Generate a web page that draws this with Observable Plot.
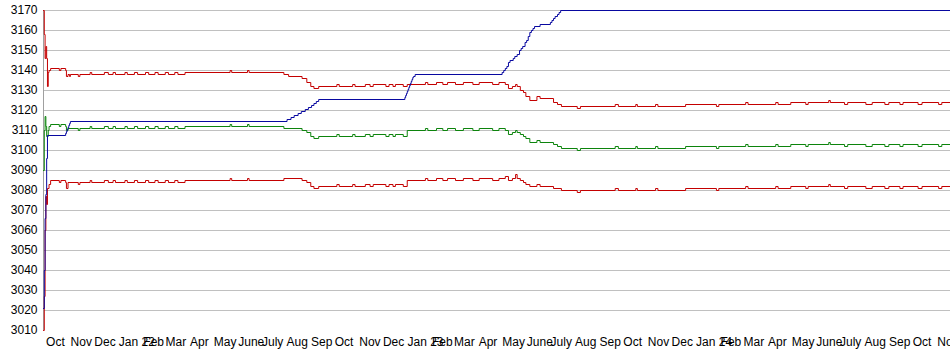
<!DOCTYPE html>
<html>
<head>
<meta charset="utf-8">
<script src="https://cdn.jsdelivr.net/npm/d3@7"></script>
<script src="https://cdn.jsdelivr.net/npm/@observablehq/plot@0.6"></script>
<style>
  html, body { margin: 0; padding: 0; background: #fff; }
  #chart svg { display: block; }
</style>
</head>
<body>
<div id="chart"></div>
<script>
const domainStart = "2021-09-29";
const domainEnd = "2024-11-19";
const yTicks = [3010, 3020, 3030, 3040, 3050, 3060, 3070, 3080, 3090, 3100, 3110, 3120, 3130, 3140, 3150, 3160, 3170];
const gridValues = [3020, 3030, 3040, 3050, 3060, 3070, 3080, 3090, 3100, 3110, 3120, 3130, 3140, 3150, 3160, 3170];
const monthNames = ["Jan", "Feb", "Mar", "Apr", "May", "June", "July", "Aug", "Sep", "Oct", "Nov", "Dec"];

const upperRed = [
["2021-09-29",3170],["2021-09-30",3158],["2021-10-01",3146],["2021-10-02",3152],["2021-10-03",3146],["2021-10-04",3132],["2021-10-05",3139],["2021-10-06",3140],["2021-10-08",3141],["2021-10-19",3140],["2021-10-21",3141],["2021-10-27",3140],["2021-10-28",3137],["2021-10-30",3138],["2021-11-01",3137],["2021-11-02",3138],
["2021-11-12",3137],["2021-11-14",3138],["2021-11-27",3139],["2021-11-29",3138],["2021-12-15",3139],["2021-12-20",3138],["2021-12-26",3139],["2021-12-29",3138],
["2022-01-10",3139],["2022-01-13",3138],["2022-01-22",3139],["2022-01-26",3138],["2022-02-05",3139],["2022-02-09",3138],["2022-02-17",3139],["2022-02-21",3138],["2022-03-02",3139],["2022-03-06",3138],["2022-03-14",3139],["2022-03-18",3138],["2022-03-27",3139],
["2022-05-23",3140],["2022-05-25",3139],["2022-06-14",3140],["2022-06-16",3139],
["2022-07-30",3138],["2022-08-05",3137],["2022-08-22",3136],["2022-08-28",3134],["2022-09-02",3132],["2022-09-06",3131],["2022-09-12",3132],
["2022-10-05",3133],["2022-10-08",3132],["2022-10-25",3133],["2022-10-28",3132],["2022-11-10",3133],["2022-11-16",3132],["2022-11-20",3133],["2022-12-06",3132],["2022-12-10",3133],["2022-12-15",3132],["2022-12-18",3133],["2022-12-28",3132],
["2023-01-02",3133],["2023-01-25",3134],["2023-01-28",3133],["2023-02-08",3134],["2023-02-16",3133],["2023-02-22",3134],["2023-03-04",3133],["2023-03-14",3134],["2023-03-26",3133],["2023-04-03",3134],["2023-04-20",3133],["2023-04-28",3134],
["2023-05-06",3133],["2023-05-10",3131],["2023-05-15",3132],["2023-05-19",3133],["2023-05-21",3132],["2023-05-25",3130],["2023-05-29",3129],["2023-06-01",3127],["2023-06-06",3125],["2023-06-15",3127],["2023-06-19",3126],["2023-07-06",3124],["2023-07-11",3123],["2023-07-16",3122],["2023-08-05",3121],["2023-08-09",3122],
["2023-09-22",3123],["2023-09-26",3122],["2023-10-18",3123],["2023-10-20",3122],["2023-11-12",3123],["2023-11-15",3122],["2023-12-20",3123],
["2024-01-28",3122],["2024-01-31",3123],["2024-03-05",3124],["2024-03-08",3123],["2024-04-12",3124],["2024-04-15",3123],["2024-05-01",3124],["2024-05-20",3123],["2024-05-23",3124],["2024-06-18",3125],["2024-06-20",3124],["2024-07-08",3123],["2024-07-12",3124],["2024-08-04",3123],["2024-08-12",3124],["2024-08-28",3123],["2024-09-02",3124],["2024-09-16",3123],["2024-09-20",3124],["2024-10-09",3123],["2024-10-14",3124],["2024-11-04",3123],["2024-11-08",3124],["2024-11-19",3124]
];

const middleGreen = [
["2021-09-29",3090],["2021-09-30",3110],["2021-10-01",3117],["2021-10-02",3112],["2021-10-03",3107],["2021-10-05",3110],["2021-10-06",3112],["2021-10-08",3113],["2021-10-19",3112],["2021-10-21",3113],["2021-10-27",3112],["2021-10-28",3110],["2021-10-30",3111],
["2021-11-12",3110],["2021-11-14",3111],["2021-11-27",3112],["2021-11-29",3111],["2021-12-15",3112],["2021-12-20",3111],["2021-12-26",3112],["2021-12-29",3111],
["2022-01-10",3112],["2022-01-13",3111],["2022-01-22",3112],["2022-01-26",3111],["2022-02-05",3112],["2022-02-09",3111],["2022-02-17",3112],["2022-02-21",3111],["2022-03-02",3112],["2022-03-06",3111],["2022-03-14",3112],["2022-03-18",3111],["2022-03-27",3112],
["2022-05-23",3113],["2022-05-25",3112],["2022-06-14",3113],["2022-06-16",3112],
["2022-07-30",3111],["2022-08-22",3110],["2022-08-28",3109],["2022-09-02",3107],["2022-09-06",3106],["2022-09-12",3107],
["2022-10-05",3108],["2022-10-08",3107],["2022-10-25",3108],["2022-10-28",3107],["2022-11-10",3108],["2022-11-16",3107],["2022-11-20",3108],["2022-12-06",3107],["2022-12-10",3108],["2022-12-15",3107],["2022-12-18",3108],["2022-12-28",3107],
["2023-01-02",3110],["2023-01-25",3111],["2023-01-28",3110],["2023-02-08",3111],["2023-02-16",3110],["2023-02-22",3111],["2023-03-04",3110],["2023-03-14",3111],["2023-03-26",3110],["2023-04-03",3111],["2023-04-20",3110],["2023-04-28",3111],
["2023-05-06",3110],["2023-05-10",3108],["2023-05-15",3109],["2023-05-19",3110],["2023-05-21",3109],["2023-05-25",3108],["2023-05-29",3107],["2023-06-01",3106],["2023-06-06",3104],["2023-06-15",3105],["2023-06-19",3104],["2023-07-06",3103],["2023-07-11",3102],["2023-07-16",3101],["2023-08-05",3100],["2023-08-09",3101],
["2023-09-22",3102],["2023-09-26",3101],["2023-10-18",3102],["2023-10-20",3101],["2023-11-12",3102],["2023-11-15",3101],["2023-12-20",3102],
["2024-01-28",3101],["2024-01-31",3102],["2024-03-05",3103],["2024-03-08",3102],["2024-04-12",3103],["2024-04-15",3102],["2024-05-01",3103],["2024-05-20",3102],["2024-05-23",3103],["2024-06-18",3104],["2024-06-20",3103],["2024-07-08",3102],["2024-07-12",3103],["2024-08-04",3102],["2024-08-12",3103],["2024-08-28",3102],["2024-09-02",3103],["2024-09-16",3102],["2024-09-20",3103],["2024-10-09",3102],["2024-10-14",3103],["2024-11-04",3102],["2024-11-08",3103],["2024-11-19",3103]
];

const lowerRed = [
["2021-09-29",3010],["2021-09-30",3027],["2021-10-01",3060],["2021-10-02",3077],["2021-10-03",3073],["2021-10-04",3081],["2021-10-06",3083],["2021-10-08",3085],["2021-10-19",3084],["2021-10-21",3085],["2021-10-27",3084],["2021-10-28",3081],["2021-10-30",3084],
["2021-11-12",3083],["2021-11-14",3084],["2021-11-27",3085],["2021-11-29",3084],["2021-12-15",3085],["2021-12-20",3084],["2021-12-26",3085],["2021-12-29",3084],
["2022-01-10",3085],["2022-01-13",3084],["2022-01-22",3085],["2022-01-26",3084],["2022-02-05",3085],["2022-02-09",3084],["2022-02-17",3085],["2022-02-21",3084],["2022-03-02",3085],["2022-03-06",3084],["2022-03-14",3085],["2022-03-18",3084],["2022-03-27",3085],
["2022-05-23",3086],["2022-05-25",3085],["2022-06-14",3086],["2022-06-16",3085],
["2022-07-30",3086],["2022-08-22",3085],["2022-08-28",3084],["2022-09-02",3082],["2022-09-06",3081],["2022-09-12",3082],
["2022-10-05",3083],["2022-10-08",3082],["2022-10-25",3083],["2022-10-28",3082],["2022-11-10",3083],["2022-11-16",3082],["2022-11-20",3083],["2022-12-06",3082],["2022-12-10",3083],["2022-12-15",3082],["2022-12-18",3083],["2022-12-28",3082],
["2023-01-02",3085],["2023-01-25",3086],["2023-01-28",3085],["2023-02-08",3086],["2023-02-16",3085],["2023-02-22",3086],["2023-03-04",3085],["2023-03-14",3086],["2023-03-26",3085],["2023-04-03",3086],["2023-04-20",3085],["2023-04-28",3086],
["2023-05-06",3087],["2023-05-10",3085],["2023-05-15",3086],["2023-05-19",3088],["2023-05-21",3086],["2023-05-25",3085],["2023-05-29",3084],["2023-06-01",3083],["2023-06-06",3082],["2023-06-15",3083],["2023-06-19",3082],["2023-07-06",3081],["2023-07-16",3080],["2023-08-05",3079],["2023-08-09",3080],
["2023-09-22",3081],["2023-09-26",3080],["2023-10-18",3081],["2023-10-20",3080],["2023-11-12",3081],["2023-11-15",3080],["2023-12-20",3081],
["2024-01-28",3080],["2024-01-31",3081],["2024-03-05",3082],["2024-03-08",3081],["2024-04-12",3082],["2024-04-15",3081],["2024-05-01",3082],["2024-05-20",3081],["2024-05-23",3082],["2024-06-18",3083],["2024-06-20",3082],["2024-07-08",3081],["2024-07-12",3082],["2024-08-04",3081],["2024-08-12",3082],["2024-08-28",3081],["2024-09-02",3082],["2024-09-16",3081],["2024-09-20",3082],["2024-10-09",3081],["2024-10-14",3082],["2024-11-04",3081],["2024-11-08",3082],["2024-11-19",3082]
];

const blueLine = [
["2021-09-29",3021],["2021-09-30",3040],["2021-10-01",3066],["2021-10-02",3078],["2021-10-03",3096],["2021-10-04",3107.5],
["2021-10-27",3108.5],["2021-10-28",3109.5],["2021-10-29",3110.5],["2021-10-30",3111.5],["2021-10-31",3112.5],["2021-11-01",3113.5],["2021-11-02",3114.5],
["2022-08-03",3115.5],["2022-08-08",3116.5],["2022-08-12",3117.5],["2022-08-17",3118.5],["2022-08-21",3119.5],["2022-08-26",3120.5],["2022-08-30",3121.5],["2022-09-03",3122.5],["2022-09-06",3123.5],["2022-09-09",3124.5],["2022-09-12",3125.5],
["2022-12-30",3126.5],["2022-12-31",3127.5],["2023-01-01",3128.5],["2023-01-02",3129.5],["2023-01-03",3130.5],["2023-01-04",3131.5],["2023-01-05",3132.5],["2023-01-06",3133.5],["2023-01-07",3134.5],["2023-01-08",3135.5],["2023-01-09",3136.5],["2023-01-10",3137],["2023-01-12",3138],
["2023-05-02",3139],["2023-05-04",3140],["2023-05-06",3141],["2023-05-08",3142],["2023-05-10",3144],["2023-05-12",3145],["2023-05-16",3146],["2023-05-18",3147],["2023-05-21",3148],["2023-05-24",3150],["2023-05-26",3151],["2023-05-28",3152],["2023-05-31",3154],["2023-06-02",3155],["2023-06-04",3157],["2023-06-06",3159],["2023-06-08",3160],["2023-06-10",3161],["2023-06-12",3162],["2023-06-19",3163],
["2023-07-02",3164],["2023-07-04",3165],["2023-07-06",3166],["2023-07-08",3167],["2023-07-11",3168],["2023-07-13",3169],["2023-07-15",3170],["2024-11-19",3170]
];

const toRows = (pairs) => pairs.map(([d, v]) => ({date: new Date(d), value: v}));
const monthTicks = d3.utcMonth.range(new Date("2021-10-01"), new Date("2024-11-02"));
const fmtMonth = (d) => {
  const m = d.getUTCMonth();
  return m === 0 ? `${monthNames[0]} ${String(d.getUTCFullYear()).slice(2)}` : monthNames[m];
};

const chart = Plot.plot({
  width: 950,
  height: 355,
  marginLeft: 43,
  marginRight: 0,
  marginTop: 10,
  marginBottom: 25,
  style: {fontFamily: "'Liberation Sans', Arial, sans-serif", fontSize: "12px", background: "#fff", color: "#000"},
  x: {type: "utc", domain: [new Date(domainStart), new Date(domainEnd)], label: null},
  y: {domain: [3010, 3170], label: null},
  marks: [
    Plot.ruleY(gridValues, {stroke: "#c0c0c0", strokeWidth: 1}),
    Plot.ruleX([new Date(domainStart)], {stroke: "#a0a0a0", strokeWidth: 1}),
    Plot.axisY(yTicks, {tickSize: 0, tickPadding: 6, fontSize: 12, fill: "#000", label: null, tickFormat: (d) => String(d)}),
    Plot.axisX(monthTicks, {tickSize: 0, tickPadding: 7, textAnchor: "start", dx: 1, fontSize: 12, fill: "#000", tickFormat: fmtMonth, label: null}),
    Plot.line(toRows(upperRed), {x: "date", y: "value", stroke: "#c40000", strokeWidth: 1, curve: "step-after"}),
    Plot.line(toRows(middleGreen), {x: "date", y: "value", stroke: "#0c840c", strokeWidth: 1, curve: "step-after"}),
    Plot.line(toRows(lowerRed), {x: "date", y: "value", stroke: "#c40000", strokeWidth: 1, curve: "step-after"}),
    Plot.line(toRows(blueLine), {x: "date", y: "value", stroke: "#0808a0", strokeWidth: 1, curve: "step-after"})
  ]
});
document.getElementById("chart").appendChild(chart);
</script>
</body>
</html>
